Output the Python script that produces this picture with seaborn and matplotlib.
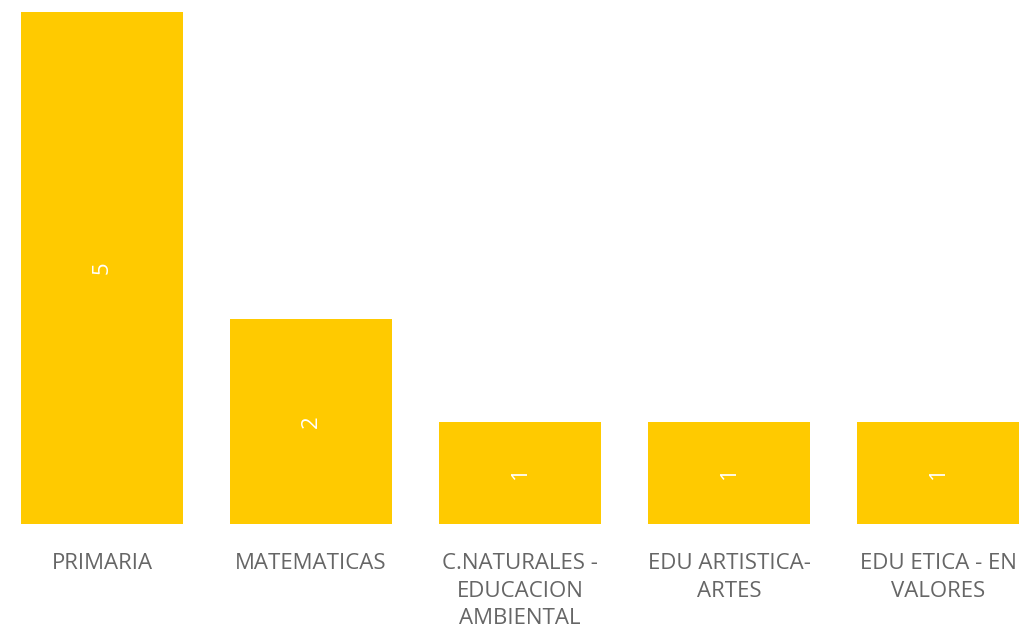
import matplotlib
matplotlib.use("Agg")
import matplotlib.pyplot as plt
import seaborn as sns
import pandas as pd

# data
categories = ["PRIMARIA", "MATEMATICAS", "C.NATURALES -\nEDUCACION\nAMBIENTAL",
              "EDU ARTISTICA-\nARTES", "EDU ETICA - EN\nVALORES"]
values = [5, 2, 1, 1, 1]

sns.set_style("white")
plt.rcParams['font.family'] = ['Open Sans', 'DejaVu Sans']

df = pd.DataFrame({"cat": categories, "val": values})

fig = plt.figure(figsize=(10.24, 6.39), dpi=100)
ax = fig.add_axes([0, 115 / 639, 1, 512 / 639])

sns.barplot(data=df, x="cat", y="val", color="#FFCA00", saturation=1,
            width=0.775, linewidth=0, ax=ax)

ax.bar_label(ax.containers[0], label_type="center", rotation=90,
             color="white", fontsize=16)

ax.set_xlim(-102 / 209, (1024 - 102) / 209)
ax.set_ylim(0, 5)
ax.set_xlabel("")
ax.set_ylabel("")
ax.set_yticks([])
ax.tick_params(axis="x", length=0, pad=21, labelsize=16, labelcolor="#666666")
for lbl in ax.get_xticklabels():
    lbl.set_linespacing(1.4)
    lbl.set_verticalalignment("top")
sns.despine(ax=ax, left=True, bottom=True)

fig.savefig("out.png", dpi=100)
